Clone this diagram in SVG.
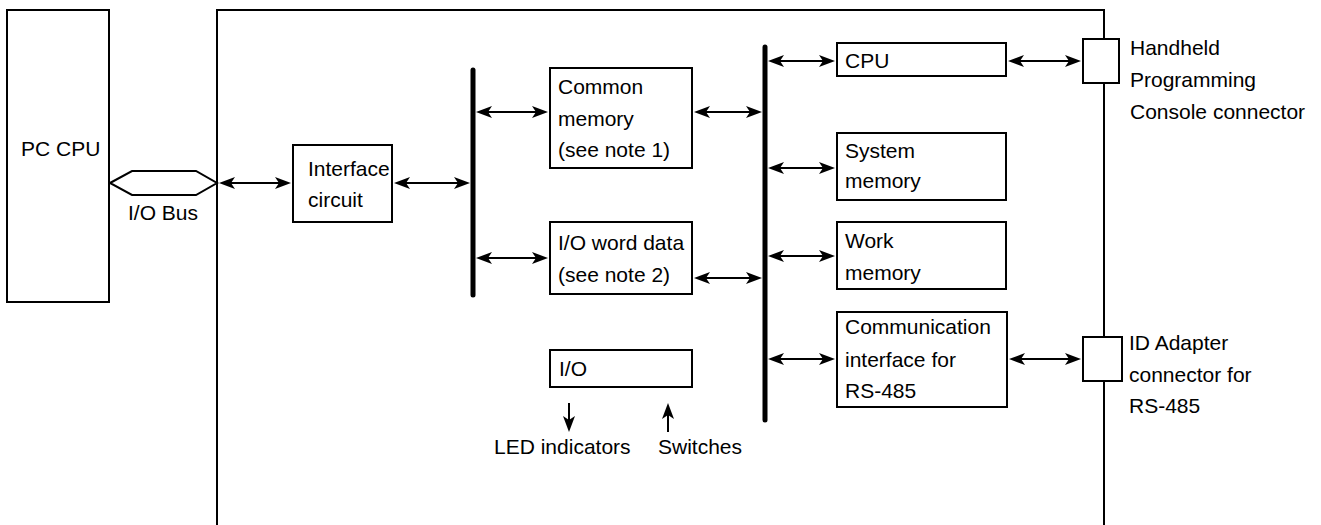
<svg xmlns="http://www.w3.org/2000/svg" xmlns:xlink="http://www.w3.org/1999/xlink" width="1321" height="525" viewBox="0 0 1321 525">
<style>
.box{fill:#fff;stroke:#000;stroke-width:2}
.ln{fill:none;stroke:#000;stroke-width:2}
.bus{fill:none;stroke:#000;stroke-width:5;stroke-linecap:round}
.cn{fill:none;stroke:#000;stroke-width:2}
.hd{fill:#000;stroke:none}
text{font-family:"Liberation Sans",Arial,sans-serif;font-size:21px;fill:#000}
</style>
<defs>
<path id="head" d="M0,0 L-16,-6 L-12,0 L-16,6 Z"/>
</defs>
<rect width="1321" height="525" fill="#fff"/>
<g id="pc-cpu">
<rect class="box" x="7" y="10" width="102" height="292"/>
<text x="21" y="156">PC CPU</text>
</g>
<g id="main-unit">
<path class="ln" d="M217,525 V10 H1104 V525"/>
</g>
<g id="io-bus">
<polygon class="box" points="110,183 132,171 196,171 217,183 196,195 132,195"/>
<text x="128" y="220">I/O Bus</text>
</g>
<g id="interface-circuit">
<rect class="box" x="293" y="145" width="99" height="77"/>
<text x="308" y="176">Interface</text>
<text x="308" y="207">circuit</text>
</g>
<g id="bus1"><line class="bus" x1="473" y1="70" x2="473" y2="295"/></g>
<g id="bus2"><line class="bus" x1="765" y1="47" x2="765" y2="420"/></g>
<g id="common-memory">
<rect class="box" x="550" y="68" width="142" height="100"/>
<text x="558" y="94">Common</text>
<text x="558" y="126">memory</text>
<text x="558" y="157">(see note 1)</text>
</g>
<g id="io-word-data">
<rect class="box" x="550" y="222" width="142" height="72"/>
<text x="558" y="250">I/O word data</text>
<text x="558" y="282">(see note 2)</text>
</g>
<g id="io">
<rect class="box" x="550" y="350" width="142" height="37"/>
<text x="559" y="376">I/O</text>
</g>
<g id="led-indicators"><text x="494" y="454">LED indicators</text></g>
<g id="switches"><text x="658" y="454">Switches</text></g>
<g id="cpu">
<rect class="box" x="837" y="43" width="169" height="33"/>
<text x="845" y="68">CPU</text>
</g>
<g id="system-memory">
<rect class="box" x="837" y="133" width="169" height="67"/>
<text x="845" y="158">System</text>
<text x="845" y="188">memory</text>
</g>
<g id="work-memory">
<rect class="box" x="837" y="222" width="169" height="67"/>
<text x="845" y="248">Work</text>
<text x="845" y="280">memory</text>
</g>
<g id="comm-interface">
<rect class="box" x="837" y="312" width="170" height="95"/>
<text x="845" y="334">Communication</text>
<text x="845" y="367">interface for</text>
<text x="845" y="398">RS-485</text>
</g>
<g id="handheld-connector">
<rect class="box" x="1083" y="39" width="36" height="44"/>
<text x="1130" y="55">Handheld</text>
<text x="1130" y="87">Programming</text>
<text x="1130" y="119">Console connector</text>
</g>
<g id="id-adapter-connector">
<rect class="box" x="1083" y="337" width="39" height="44"/>
<text x="1129" y="350">ID Adapter</text>
<text x="1129" y="382">connector for</text>
<text x="1129" y="413">RS-485</text>
</g>
<g id="connectors">
<path class="cn" d="M231,183 H279 M406,183 H458 M488,112 H536 M488,258 H536 M706,112 H750 M706,278 H750 M780,61 H823 M780,168 H823 M780,256 H823 M780,359 H823 M1020,61 H1069 M1021,359 H1069 M569,403 V420 M668,432 V415"/>
<g class="hd">
<use xlink:href="#head" transform="translate(219,183) rotate(180)"/>
<use xlink:href="#head" transform="translate(291,183)"/>
<use xlink:href="#head" transform="translate(394,183) rotate(180)"/>
<use xlink:href="#head" transform="translate(470,183)"/>
<use xlink:href="#head" transform="translate(476,112) rotate(180)"/>
<use xlink:href="#head" transform="translate(548,112)"/>
<use xlink:href="#head" transform="translate(476,258) rotate(180)"/>
<use xlink:href="#head" transform="translate(548,258)"/>
<use xlink:href="#head" transform="translate(694,112) rotate(180)"/>
<use xlink:href="#head" transform="translate(762,112)"/>
<use xlink:href="#head" transform="translate(694,278) rotate(180)"/>
<use xlink:href="#head" transform="translate(762,278)"/>
<use xlink:href="#head" transform="translate(768,61) rotate(180)"/>
<use xlink:href="#head" transform="translate(835,61)"/>
<use xlink:href="#head" transform="translate(768,168) rotate(180)"/>
<use xlink:href="#head" transform="translate(835,168)"/>
<use xlink:href="#head" transform="translate(768,256) rotate(180)"/>
<use xlink:href="#head" transform="translate(835,256)"/>
<use xlink:href="#head" transform="translate(768,359) rotate(180)"/>
<use xlink:href="#head" transform="translate(835,359)"/>
<use xlink:href="#head" transform="translate(1008,61) rotate(180)"/>
<use xlink:href="#head" transform="translate(1081,61)"/>
<use xlink:href="#head" transform="translate(1009,359) rotate(180)"/>
<use xlink:href="#head" transform="translate(1081,359)"/>
<use xlink:href="#head" transform="translate(569,432) rotate(90)"/>
<use xlink:href="#head" transform="translate(668,403) rotate(-90)"/>
</g>
</g>
</svg>
